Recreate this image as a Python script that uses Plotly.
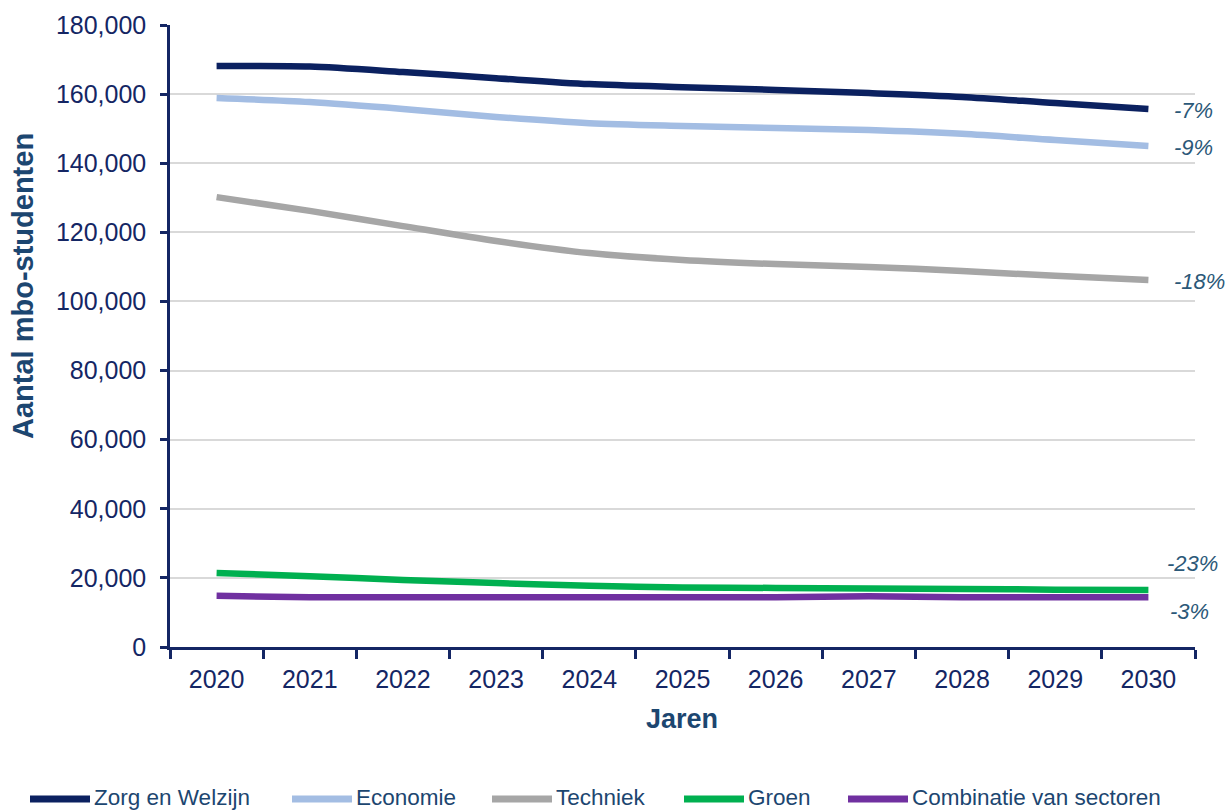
import plotly.graph_objects as go

# Projected mbo student numbers per sector, 2020-2030
years = ["2020", "2021", "2022", "2023", "2024", "2025", "2026", "2027", "2028", "2029", "2030"]

zorg_welzijn = [168100, 168000, 166400, 164600, 162900, 162000, 161200, 160300, 159200, 157400, 155700]
economie = [158900, 157700, 155700, 153400, 151600, 150800, 150200, 149600, 148500, 146700, 145000]
techniek = [130200, 126200, 121800, 117500, 114000, 112000, 110800, 110000, 108800, 107400, 106200]
groen = [21400, 20500, 19400, 18500, 17700, 17200, 17100, 16900, 16800, 16600, 16500]
combinatie = [14800, 14400, 14400, 14400, 14400, 14400, 14400, 14700, 14400, 14400, 14400]

series_names = ["Zorg en Welzijn", "Economie", "Techniek", "Groen", "Combinatie van sectoren"]
series_values = [zorg_welzijn, economie, techniek, groen, combinatie]
change_labels = ["-7%", "-9%", "-18%", "-23%", "-3%"]

# Styling
series_colors = ["#0b2160", "#a3bde3", "#a6a6a6", "#00b050", "#7030a0"]
label_shifts = [(24, -2), (24, -2), (24, -1), (17, 26), (20, -14)]

NAVY = "#142664"
TITLE_BLUE = "#1c4670"
LABEL_BLUE = "#2b5878"
FONT = "Liberation Sans, Arial, sans-serif"

W, H = 1225, 811
M_L, M_R, M_T, M_B = 170, 30, 25, 164
PLOT_W = W - M_L - M_R
PLOT_H = H - M_T - M_B


def px_to_paper_x(px):
    return (px - M_L) / PLOT_W


def px_to_paper_y(py):
    return (H - M_B - py) / PLOT_H


fig = go.Figure()
for name, vals, col in zip(series_names, series_values, series_colors):
    fig.add_trace(go.Scatter(
        x=years, y=vals, name=name, mode="lines",
        line=dict(color=col, width=6.5, shape="spline", smoothing=0.8),
        showlegend=False,
    ))

# Relative change 2020-2030 next to each line end (x given as category index)
last_idx = len(years) - 1
for vals, txt, (dx, dy) in zip(series_values, change_labels, label_shifts):
    fig.add_annotation(
        x=last_idx, xref="x", y=vals[-1], yref="y",
        text=f"<i>{txt}</i>", showarrow=False,
        xanchor="left", yanchor="middle", xshift=dx, yshift=dy,
        font=dict(family=FONT, size=22, color=LABEL_BLUE),
    )

# Legend row below the chart: a thick line sample followed by the name
legend_start_px = [30, 292, 492, 684, 848]
legend_y_px = 798
sample_len = 60
for name, col, x0 in zip(series_names, series_colors, legend_start_px):
    fig.add_shape(
        type="line", xref="paper", yref="paper",
        x0=px_to_paper_x(x0), x1=px_to_paper_x(x0 + sample_len),
        y0=px_to_paper_y(legend_y_px + 1), y1=px_to_paper_y(legend_y_px + 1),
        line=dict(color=col, width=7),
    )
    fig.add_annotation(
        x=px_to_paper_x(x0 + sample_len + 2), xref="paper",
        y=px_to_paper_y(legend_y_px), yref="paper",
        text=name, showarrow=False, xanchor="left", yanchor="middle",
        font=dict(family=FONT, size=22.5, color=TITLE_BLUE),
    )

# Axis titles
fig.add_annotation(
    x=px_to_paper_x(682), xref="paper", y=px_to_paper_y(719), yref="paper",
    text="<b>Jaren</b>", showarrow=False, xanchor="center", yanchor="middle",
    font=dict(family=FONT, size=27, color=TITLE_BLUE),
)
fig.add_annotation(
    x=px_to_paper_x(23), xref="paper", y=px_to_paper_y(286), yref="paper",
    text="<b>Aantal mbo-studenten</b>", showarrow=False, textangle=-90,
    xanchor="center", yanchor="middle",
    font=dict(family=FONT, size=29, color=TITLE_BLUE),
)

fig.update_layout(
    width=W, height=H,
    margin=dict(l=M_L, r=M_R, t=M_T, b=M_B, autoexpand=False),
    paper_bgcolor="white", plot_bgcolor="white",
    font=dict(family=FONT, color=NAVY),
    showlegend=False,
)

fig.update_xaxes(
    type="category", automargin=False,
    showline=True, linecolor=NAVY, linewidth=2.5,
    ticks="outside", tickson="boundaries", ticklen=9, tickwidth=2.5, tickcolor=NAVY,
    ticklabelstandoff=8,
    showgrid=False,
    tickfont=dict(family=FONT, size=25, color=NAVY),
    range=[-0.5, 10.5],
)

fig.update_yaxes(
    range=[0, 180000], dtick=20000, tickformat=",d", automargin=False,
    showline=True, linecolor=NAVY, linewidth=2.5,
    ticks="outside", ticklen=7, tickwidth=2.5, tickcolor=NAVY,
    ticklabelstandoff=9,
    showgrid=True, gridcolor="#d9d9d9", gridwidth=1.5,
    zeroline=False,
    tickfont=dict(family=FONT, size=25, color=NAVY),
)

fig.write_html("out.html")
